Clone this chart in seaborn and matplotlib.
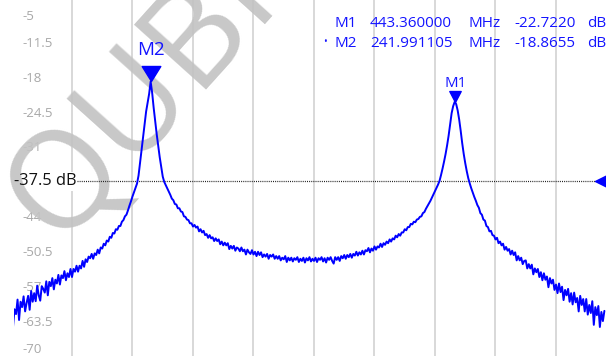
import numpy as np
import pandas as pd
import matplotlib
matplotlib.use("Agg")
import matplotlib.pyplot as plt
import matplotlib.transforms as mtransforms
import seaborn as sns

# ---------------- data ----------------
sweep_start_mhz = 150.0
sweep_step_mhz = 1.0

db_150_199 = [-61.1, -64.6, -61.3, -62.2, -59.5, -63.3, -59.9, -60.9, -58.9, -61.7,
              -60.1, -58.8, -61.4, -57.9, -59.9, -58.3, -59.8, -56.9, -58.7, -59.7,
              -57.0, -57.5, -58.2, -56.1, -58.7, -56.2, -57.0, -55.5, -57.6, -55.8,
              -56.5, -54.9, -56.7, -55.0, -55.5, -54.2, -55.9, -54.6, -55.3, -53.8,
              -55.3, -53.8, -54.3, -53.2, -54.3, -53.2, -53.7, -52.3, -53.4, -52.0]
db_200_249 = [-52.5, -51.5, -51.8, -51.0, -51.9, -50.9, -51.2, -50.2, -50.9, -49.8,
              -50.0, -49.1, -49.4, -48.5, -48.7, -47.8, -48.0, -47.1, -47.2, -46.4,
              -46.5, -45.8, -45.8, -45.0, -44.7, -44.0, -43.7, -42.9, -42.0, -41.2,
              -40.3, -39.5, -38.7, -37.9, -36.4, -34.0, -31.6, -29.2, -26.8, -24.5,
              -22.9, -21.2, -18.9, -21.0, -23.8, -26.3, -28.7, -30.9, -33.0, -34.8]
db_250_299 = [-36.6, -37.6, -38.2, -38.8, -39.4, -40.0, -40.7, -41.0, -41.7, -41.8,
              -42.5, -42.5, -43.1, -43.2, -44.0, -44.1, -44.6, -44.7, -45.3, -45.3,
              -45.9, -45.6, -46.1, -45.9, -46.8, -46.4, -47.0, -46.7, -47.5, -47.3,
              -48.0, -47.5, -48.1, -47.9, -48.6, -48.1, -48.6, -48.3, -49.2, -48.7,
              -49.4, -48.9, -49.4, -49.0, -50.1, -49.5, -50.0, -49.5, -50.4, -49.8]
db_300_349 = [-50.0, -50.5, -49.8, -50.5, -50.2, -51.1, -50.2, -50.7, -51.0, -50.3,
              -51.1, -50.6, -51.4, -50.6, -51.2, -50.7, -51.6, -51.1, -51.5, -51.0,
              -51.9, -51.2, -51.5, -51.1, -51.9, -51.4, -51.9, -51.4, -52.2, -51.7,
              -52.0, -51.4, -52.5, -51.7, -52.2, -51.7, -52.4, -51.8, -52.1, -51.6,
              -52.5, -51.9, -52.3, -51.7, -52.6, -51.8, -52.2, -51.6, -52.4, -51.9]
db_350_399 = [-52.3, -51.7, -52.5, -51.8, -52.1, -51.6, -52.4, -51.8, -52.6, -51.7,
              -52.1, -51.6, -52.3, -52.8, -51.6, -52.1, -51.6, -52.3, -51.4, -51.8,
              -51.2, -51.9, -51.2, -51.6, -51.0, -51.7, -51.0, -51.3, -50.6, -51.3,
              -50.7, -51.1, -50.4, -51.1, -50.3, -50.5, -49.9, -50.7, -50.0, -50.4,
              -49.6, -50.2, -49.6, -49.8, -49.1, -49.7, -49.0, -49.3, -48.7, -49.0]
db_400_449 = [-48.3, -48.7, -48.1, -48.3, -47.6, -47.9, -47.3, -47.6, -47.0, -47.0,
              -46.4, -46.6, -46.0, -46.0, -45.4, -45.5, -45.0, -45.1, -44.6, -44.5,
              -44.1, -44.0, -43.4, -43.2, -42.6, -42.1, -41.6, -41.1, -40.5, -39.9,
              -39.3, -38.7, -38.1, -37.4, -36.3, -35.1, -33.8, -32.4, -30.8, -29.0,
              -26.9, -24.8, -23.5, -22.7, -23.1, -24.3, -26.0, -28.1, -30.4, -32.4]
db_450_499 = [-34.1, -35.6, -36.9, -37.9, -38.8, -39.6, -40.4, -41.1, -41.9, -42.4,
              -43.4, -43.7, -44.6, -44.8, -45.8, -46.0, -46.8, -46.7, -47.5, -47.6,
              -48.3, -48.0, -49.0, -48.7, -49.4, -49.1, -50.2, -49.7, -50.4, -50.1,
              -51.1, -50.4, -51.2, -50.7, -52.2, -51.4, -52.2, -51.7, -52.9, -52.3,
              -52.2, -53.7, -52.9, -53.7, -53.0, -54.8, -53.7, -54.4, -53.8, -55.3]
db_500_542 = [-54.4, -55.9, -54.6, -55.8, -55.2, -57.2, -55.5, -56.5, -55.8, -57.7,
              -56.7, -58.3, -56.5, -58.1, -57.1, -59.6, -57.7, -58.7, -57.5, -59.9,
              -58.3, -60.4, -58.2, -60.0, -59.2, -61.7, -58.8, -60.5, -59.4, -61.7,
              -59.4, -62.3, -60.5, -62.0, -59.8, -64.2, -60.9, -62.4, -60.7, -64.6,
              -61.8, -63.5, -61.6]

marker_names = ["M1", "M2"]
marker_freqs_mhz = [443.360000, 241.991105]
marker_levels_db = [-22.7220, -18.8655]
marker_freq_text = ["443.360000", "241.991105"]
marker_level_text = ["-22.7220", "-18.8655"]

ref_level_db = -37.5
ref_level_text = "-37.5 dB"

y_ticks = [-5, -11.5, -18, -24.5, -31, -37.5, -44, -50.5, -57, -63.5, -70]
y_tick_labels = ["-5", "-11.5", "-18", "-24.5", "-31", "-37.5", "-44",
                 "-50.5", "-57", "-63.5", "-70"]
x_grid_mhz = [190, 230, 270, 310, 350, 390, 430, 470, 510]

# ---------------- build ----------------
trace_db = (db_150_199 + db_200_249 + db_250_299 + db_300_349 + db_350_399
            + db_400_449 + db_450_499 + db_500_542)
freq_mhz = sweep_start_mhz + sweep_step_mhz * np.arange(len(trace_db))
df = pd.DataFrame({"freq_mhz": freq_mhz, "level_db": trace_db})

sns.set_theme(style="white")
plt.rcParams['font.family'] = ['Open Sans', 'DejaVu Sans']

W, H = 606, 356
BLUE = '#0000ff'
TXT_BLUE = '#1414ff'

fig = plt.figure(figsize=(W / 100, H / 100), dpi=100)
fig.patch.set_facecolor('white')
left_px = 14
ax = fig.add_axes([left_px / W, 0, 1 - left_px / W, 1])
ax.set_facecolor('white')
for s in ax.spines.values():
    s.set_visible(False)

sns.lineplot(data=df, x='freq_mhz', y='level_db', ax=ax, color=BLUE,
             lw=1.4, estimator=None, sort=False, zorder=4)

px_per_mhz = 1.5125
x0 = 142.40 + left_px / px_per_mhz
ax.set_xlim(x0, 142.40 + W / px_per_mhz)
ax.set_ylim(-70, -3.73)
ax.set_xlabel('')
ax.set_ylabel('')

ax.set_xticks([])
ax.set_xticks(x_grid_mhz, minor=True)
ax.set_yticks(y_ticks, labels=y_tick_labels)
ax.set_yticks(y_ticks[1:-1], minor=True)
ax.grid(False)
ax.grid(which='minor', color='#d6d6d6', lw=1.3)
ax.set_axisbelow(True)
ax.tick_params(which='both', length=0)
ax.tick_params(axis='x', which='both', labelbottom=False)
ax.tick_params(axis='y', which='major', pad=-8 * 0.72, labelsize=9.5,
               labelcolor='#a8a8a8')

for lab in ax.get_yticklabels():
    lab.set_horizontalalignment('left')
    lab.set_bbox(dict(boxstyle='square,pad=0.18', fc='white', ec='none'))
labs = ax.get_yticklabels()
labs[0].set_transform(labs[0].get_transform() +
                      mtransforms.ScaledTranslation(0, -8.2 / 100, fig.dpi_scale_trans))
labs[-1].set_transform(labs[-1].get_transform() +
                       mtransforms.ScaledTranslation(0, 8 / 100, fig.dpi_scale_trans))

# reference level
blend = mtransforms.blended_transform_factory(ax.transAxes, ax.transData)
ax.axhline(ref_level_db, xmin=(77 - left_px) / (W - left_px),
           xmax=(595 - left_px) / (W - left_px), color='#222222', lw=0.9,
           ls=(0, (0.8, 0.9)), zorder=3)
ax.plot([(595 - left_px) / (W - left_px)], [ref_level_db], transform=blend,
        marker=[(0, 0), (1, 0.5), (1, -0.5), (0, 0)], ms=15.8, color=BLUE,
        ls='none', clip_on=False, zorder=5)
ax.text((13.5 - left_px) / (W - left_px), ref_level_db, ref_level_text,
        transform=blend, ha='left', va='center', fontsize=11.8, color='none',
        bbox=dict(boxstyle='square,pad=0.1', fc='white', ec='none'),
        clip_on=False, zorder=1.5)
ax.text((13.5 - left_px) / (W - left_px), ref_level_db, ref_level_text,
        transform=blend, ha='left', va='center', fontsize=11.8, color='#111111',
        clip_on=False, zorder=6)

# watermark
ax.text(172 / W, 1 - 66 / H, "QUBIC", transform=fig.transFigure,
        rotation=48, rotation_mode='anchor', ha='center', va='center',
        fontsize=98, color='#c2c2c2', alpha=0.9, zorder=2)

# markers
m_sizes = {"M1": 15.8, "M2": 21.6}
m_half = {"M1": 0.52, "M2": 0.62}
m_fs = {"M1": 10.8, "M2": 13.5}
m_off = {"M1": 11.0, "M2": 18.9}
for name, f, lv in zip(marker_names, marker_freqs_mhz, marker_levels_db):
    hw = m_half[name]
    ax.plot([f], [lv], marker=[(0, 0), (-hw, 1), (hw, 1), (0, 0)],
            ms=m_sizes[name], color=BLUE, ls='none', zorder=5)
    ax.annotate(name, xy=(f, lv), xytext=(0, m_off[name]),
                textcoords='offset points', ha='center', va='baseline',
                fontsize=m_fs[name], color=TXT_BLUE, zorder=6)

# marker table (top right)
def fpt(x, y):
    return x / W, 1 - y / H

rows_y = [26.7, 46.7]
for i, name in enumerate(marker_names):
    y = rows_y[i]
    fig.text(*fpt(335, y), name, ha='left', va='baseline', fontsize=11, color=TXT_BLUE)
    fig.text(*fpt(370, y), marker_freq_text[i], ha='left', va='baseline', fontsize=11, color=TXT_BLUE)
    fig.text(*fpt(468, y), "MHz", ha='left', va='baseline', fontsize=11, color=TXT_BLUE)
    fig.text(*fpt(514, y), marker_level_text[i], ha='left', va='baseline', fontsize=11, color=TXT_BLUE)
    fig.text(*fpt(587, y), "dB", ha='left', va='baseline', fontsize=11, color=TXT_BLUE)
fig.text(*fpt(325, 42), "•", ha='center', va='center', fontsize=7, color=TXT_BLUE)

fig.savefig("out.png", dpi=100, facecolor='white')
